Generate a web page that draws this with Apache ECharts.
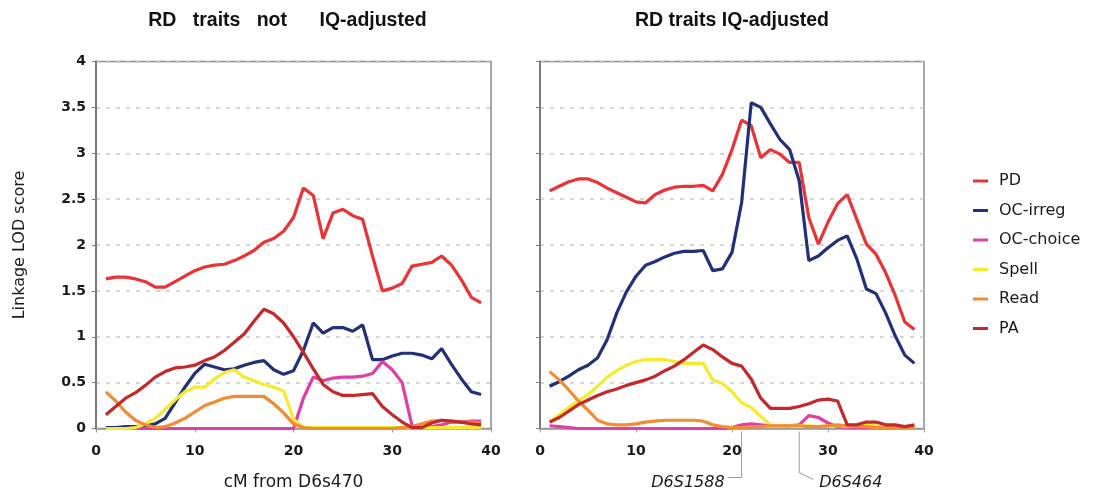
<!DOCTYPE html>
<html>
<head>
<meta charset="utf-8">
<script src="https://cdn.jsdelivr.net/npm/echarts@6/dist/echarts.min.js"></script>
<style>
html,body{margin:0;padding:0;background:#fff;}
#chart{width:1093px;height:491px;}
</style>
</head>
<body>
<div id="chart"></div>
<script>
// ---- data ----
const cM = [1,2,3,4,5,6,7,8,9,10,11,12,13,14,15,16,17,18,19,20,21,22,23,24,25,26,27,28,29,30,31,32,33,34,35,36,37,38,39];
const seriesNames = ['PD','OC-irreg','OC-choice','Spell','Read','PA'];
const yTicks = [0,0.5,1,1.5,2,2.5,3,3.5,4];
const xTicks = [0,10,20,30,40];
const panelTitles = ['RD   traits   not      IQ-adjusted', 'RD traits IQ-adjusted'];
const markers = [{name:'D6S1588', cM:21, side:'left'}, {name:'D6S464', cM:27, side:'right'}];

// not IQ-adjusted
const PD_left      = [1.63,1.65,1.65,1.63,1.60,1.54,1.54,1.60,1.66,1.72,1.76,1.78,1.79,1.83,1.88,1.94,2.03,2.07,2.15,2.30,2.62,2.54,2.07,2.35,2.39,2.32,2.28,1.88,1.50,1.53,1.58,1.77,1.79,1.81,1.88,1.78,1.62,1.43,1.37];
const OCirreg_left = [0.01,0.01,0.02,0.02,0.03,0.05,0.11,0.28,0.45,0.60,0.70,0.67,0.64,0.65,0.69,0.72,0.74,0.64,0.59,0.63,0.85,1.15,1.04,1.10,1.10,1.06,1.13,0.75,0.75,0.79,0.82,0.82,0.80,0.76,0.87,0.70,0.54,0.40,0.37];
const OCchoice_left= [0,0,0,0,0,0,0,0,0,0,0,0,0,0,0,0,0,0,0,0,0.33,0.56,0.52,0.55,0.56,0.56,0.57,0.60,0.73,0.64,0.50,0.03,0.01,0.02,0.04,0.07,0.07,0.08,0.08];
const Spell_left   = [0,0,0,0.01,0.05,0.11,0.21,0.31,0.40,0.45,0.45,0.54,0.61,0.64,0.56,0.52,0.48,0.45,0.41,0.10,0.01,0.01,0.01,0.01,0.01,0.01,0.01,0.01,0.01,0.01,0.01,0.01,0.01,0.01,0.01,0.01,0.01,0.01,0.01];
const Read_left    = [0.40,0.30,0.18,0.09,0.04,0.01,0.02,0.06,0.11,0.18,0.25,0.29,0.33,0.35,0.35,0.35,0.35,0.27,0.17,0.05,0.01,0,0,0,0,0,0,0,0,0,0.01,0.02,0.05,0.08,0.09,0.08,0.07,0.07,0.06];
const PA_left      = [0.15,0.24,0.33,0.39,0.47,0.56,0.62,0.66,0.67,0.69,0.74,0.78,0.85,0.94,1.03,1.17,1.30,1.25,1.15,1.00,0.83,0.65,0.48,0.40,0.36,0.36,0.37,0.38,0.24,0.15,0.07,0.01,0.01,0.06,0.09,0.08,0.07,0.05,0.04];

// IQ-adjusted
const PD_right      = [2.59,2.64,2.69,2.72,2.72,2.68,2.62,2.57,2.52,2.47,2.46,2.55,2.60,2.63,2.64,2.64,2.65,2.59,2.77,3.04,3.36,3.30,2.95,3.04,2.99,2.90,2.90,2.30,2.01,2.25,2.45,2.55,2.28,2.01,1.90,1.70,1.45,1.16,1.08];
const OCirreg_right = [0.46,0.51,0.57,0.64,0.69,0.77,0.97,1.26,1.49,1.66,1.78,1.82,1.87,1.91,1.93,1.93,1.94,1.72,1.74,1.92,2.46,3.55,3.50,3.32,3.15,3.04,2.70,1.83,1.88,1.97,2.05,2.10,1.85,1.52,1.47,1.26,1.01,0.80,0.71];
const OCchoice_right= [0.03,0.02,0.01,0,0,0,0,0,0,0,0,0,0,0,0,0,0,0,0,0.01,0.04,0.05,0.04,0.03,0.03,0.03,0.04,0.14,0.12,0.06,0.02,0.01,0.01,0.01,0.01,0.01,0.01,0.01,0.01];
const Spell_right   = [0.07,0.15,0.23,0.30,0.37,0.46,0.56,0.63,0.69,0.73,0.75,0.75,0.75,0.73,0.71,0.71,0.71,0.53,0.49,0.40,0.28,0.23,0.13,0.04,0.03,0.03,0.03,0.03,0.02,0.03,0.03,0.02,0.03,0.04,0.03,0.02,0.02,0.01,0.01];
const Read_right    = [0.62,0.53,0.42,0.30,0.20,0.09,0.05,0.04,0.04,0.05,0.07,0.08,0.09,0.09,0.09,0.09,0.08,0.04,0.02,0.01,0.01,0.02,0.02,0.03,0.03,0.03,0.03,0.02,0.02,0.03,0.04,0.03,0.02,0.02,0.01,0.01,0.01,0.01,0.01];
const PA_right      = [0.07,0.12,0.19,0.26,0.31,0.36,0.40,0.43,0.47,0.50,0.53,0.57,0.63,0.68,0.75,0.83,0.91,0.86,0.78,0.71,0.68,0.54,0.33,0.22,0.22,0.22,0.24,0.27,0.31,0.32,0.30,0.04,0.04,0.07,0.07,0.04,0.04,0.02,0.04];

const leftData  = [PD_left, OCirreg_left, OCchoice_left, Spell_left, Read_left, PA_left];
const rightData = [PD_right, OCirreg_right, OCchoice_right, Spell_right, Read_right, PA_right];
const colors = ['#ea3336','#232f78','#e03ea6','#f6ea2c','#f28c33','#c4282b'];

// ---- chart ----
const chart = echarts.init(document.getElementById('chart'), null, {renderer:'canvas'});
const FONT = 'DejaVu Sans';

function xAxis(gi, name){
  return {
    type:'value', gridIndex:gi, min:xTicks[0], max:xTicks[xTicks.length-1], interval:10,
    name: name || '', nameLocation:'middle', nameGap:46,
    nameTextStyle:{fontFamily:FONT, fontSize:17, color:'#1a1a1a'},
    axisLine:{show:true, onZero:false, lineStyle:{color:'#9a9a9a', width:1.5}},
    axisTick:{show:true, length:4, lineStyle:{color:'#9a9a9a'}},
    axisLabel:{show:true, margin:16, fontFamily:FONT, fontWeight:'bold', fontSize:14, color:'#1a1a1a'},
    splitLine:{show:false}
  };
}
function yAxis(gi, showLabel){
  return {
    type:'value', gridIndex:gi, min:yTicks[0], max:yTicks[yTicks.length-1], interval:0.5,
    name: showLabel ? 'Linkage LOD score' : '', nameLocation:'middle', nameGap:68, nameRotate:90,
    nameTextStyle:{fontFamily:FONT, fontSize:16, color:'#1a1a1a'},
    axisLine:{show:true, lineStyle:{color:'#7a7a7a', width:2}},
    axisTick:{show:true, length:4, lineStyle:{color:'#7a7a7a'}},
    axisLabel:{show:showLabel, margin:10, fontFamily:FONT, fontWeight:'bold', fontSize:14, color:'#1a1a1a'},
    splitLine:{show:true, lineStyle:{color:'#c9c9c9', width:1.5, type:[4,6]}}
  };
}

const series = [];
[leftData, rightData].forEach((set, gi) => {
  set.forEach((arr, k) => {
    series.push({
      type:'line', name:seriesNames[k], xAxisIndex:gi, yAxisIndex:gi,
      data: cM.map((x,i)=>[x, arr[i]]),
      showSymbol:false, symbol:'none', smooth:false,
      lineStyle:{width:3.2, color:colors[k]}, itemStyle:{color:colors[k]},
      z: 2 + k
    });
  });
});

chart.setOption({
  animation:false,
  backgroundColor:'#ffffff',
  grid:[
    {left:96, top:61.5, width:395, height:367, show:true, borderColor:'#8c8c8c', borderWidth:1.5, backgroundColor:'#fff', outerBoundsMode:'none', containLabel:false},
    {left:540, top:61.5, width:384, height:367, show:true, borderColor:'#8c8c8c', borderWidth:1.5, backgroundColor:'#fff', outerBoundsMode:'none', containLabel:false}
  ],
  xAxis:[xAxis(0,'cM from D6s470'), xAxis(1,'')],
  yAxis:[yAxis(0,true), yAxis(1,false)],
  legend:{
    data:seriesNames, orient:'vertical', left:968, top:168,
    icon:'rect', itemWidth:15, itemHeight:3, itemGap:13.5,
    textStyle:{fontFamily:FONT, fontSize:16, color:'#1a1a1a', lineHeight:16, padding:[0,0,0,6]}
  },
  series: series
});

// titles and marker annotations (positions from the axis scales)
const g = [];
const leftMid = chart.convertToPixel({gridIndex:0}, [20, 4]);
const rightMid = chart.convertToPixel({gridIndex:1}, [20, 4]);
[leftMid, rightMid].forEach((p, i) => {
  g.push({type:'text', x:p[0] + (i===0 ? -6 : 0), y:21, silent:true,
    style:{text:panelTitles[i], x:0, y:0, align:'center', verticalAlign:'middle',
      font:'bold 19.5px "Liberation Sans", Arial, sans-serif', fill:'#111'}});
});
markers.forEach(m => {
  const p = chart.convertToPixel({gridIndex:1}, [m.cM, 0]);
  const x = p[0], y0 = p[1] + 3;
  if (m.side === 'left') {
    g.push({type:'polyline', silent:true, shape:{points:[[x,y0],[x,y0+46],[x-14,y0+46]]},
      style:{stroke:'#9a9a9a', lineWidth:1, fill:null}});
    g.push({type:'text', silent:true, x:x-17, y:y0+51,
      style:{text:m.name, align:'right', verticalAlign:'middle',
        font:'italic 16px "DejaVu Sans", sans-serif', fill:'#1a1a1a'}});
  } else {
    g.push({type:'polyline', silent:true, shape:{points:[[x,y0],[x,y0+41],[x+14,y0+48]]},
      style:{stroke:'#9a9a9a', lineWidth:1, fill:null}});
    g.push({type:'text', silent:true, x:x+20, y:y0+51,
      style:{text:m.name, align:'left', verticalAlign:'middle',
        font:'italic 16px "DejaVu Sans", sans-serif', fill:'#1a1a1a'}});
  }
});
chart.setOption({graphic:g});
</script>
</body>
</html>
